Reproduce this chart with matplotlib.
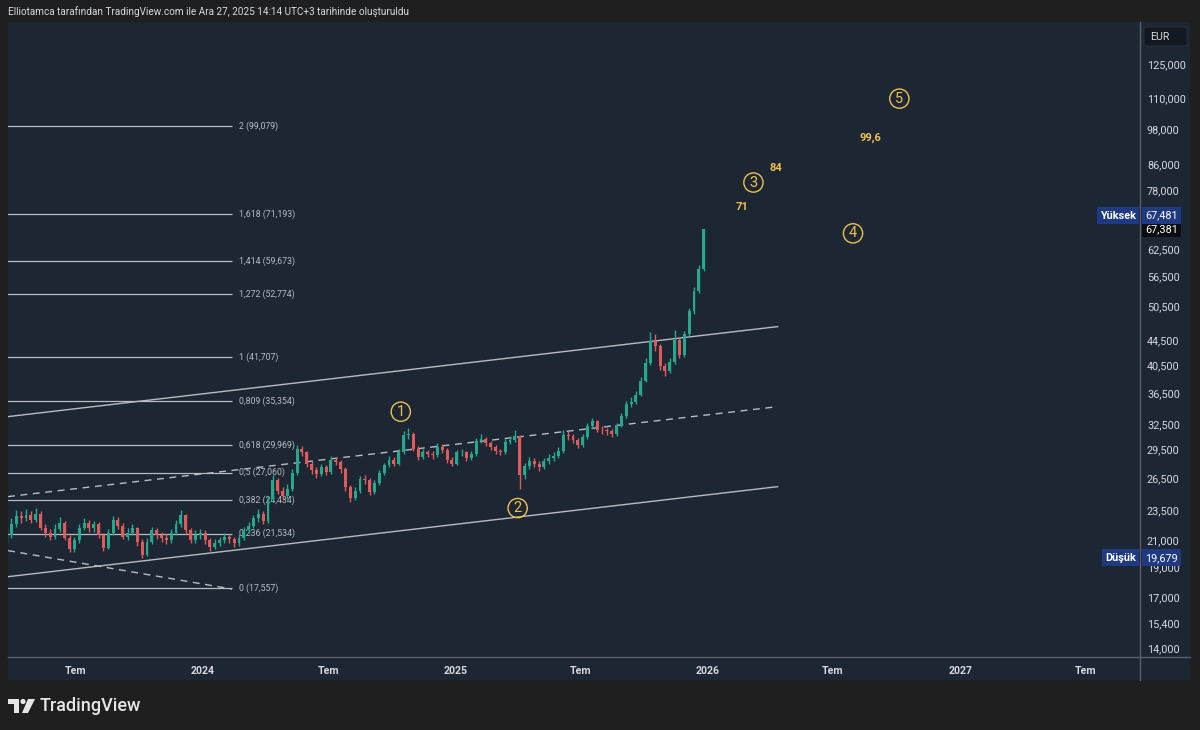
import matplotlib
matplotlib.use('Agg')
import matplotlib.pyplot as plt
import matplotlib.dates as mdates
import matplotlib.transforms as mtransforms
from matplotlib.ticker import FixedLocator, FixedFormatter, NullLocator
from matplotlib.patches import Rectangle, Polygon, Circle, FancyBboxPatch
from matplotlib.lines import Line2D
import pandas as pd

plt.rcParams['font.family'] = ['Roboto', 'DejaVu Sans']

W, H = 1200, 730

# weekly candles, prices in thousands EUR
first_open = 21.0
closes_k = [
    21.4, 22.3, 23.0, 22.8, 23.1, 22.7, 23.2, 22.0, 21.6, 21.3,
    21.9, 22.4, 21.2, 20.3, 21.0, 22.0, 22.4, 22.0, 22.3, 21.4,
    20.4, 21.6, 22.7, 22.2, 21.3, 21.6, 22.0, 20.9, 19.9, 20.9,
    21.8, 21.4, 21.2, 21.0, 21.6, 22.3, 23.1, 21.8, 21.0, 21.4,
    21.6, 21.0, 20.5, 20.8, 21.0, 21.3, 21.1, 20.8, 21.2, 21.8,
    22.2, 22.8, 23.2, 22.6, 24.5, 26.3, 25.3, 24.8, 25.5, 27.0,
    29.6, 29.2, 28.0, 27.3, 26.9, 27.6, 27.1, 28.4, 28.2, 27.4,
    25.6, 24.6, 25.3, 26.4, 26.3, 25.2, 26.0, 27.0, 27.8, 28.4,
    28.0, 29.2, 31.2, 31.3, 29.6, 28.7, 29.2, 29.0, 28.9, 29.8,
    29.5, 28.4, 28.0, 29.2, 29.2, 28.6, 29.0, 30.5, 30.7, 30.2,
    29.8, 29.3, 29.2, 30.4, 30.6, 31.0, 26.8, 27.7, 28.3, 28.0,
    27.6, 28.3, 28.6, 28.8, 29.3, 31.2, 31.0, 30.6, 30.0, 30.9,
    32.2, 32.8, 31.8, 31.7, 31.6, 31.3, 32.3, 33.4, 35.0, 35.3,
    36.2, 38.2, 40.8, 44.3, 43.5, 40.3, 39.6, 41.0, 44.5, 42.0,
    45.5, 49.5, 53.5, 58.0, 67.381,
]
highs_k = [
    21.9, 22.8, 23.5, 23.4, 23.6, 23.4, 23.7, 23.4, 22.3, 21.9,
    22.3, 22.9, 22.6, 21.4, 21.3, 22.3, 22.8, 22.7, 22.6, 22.5,
    21.6, 21.9, 23.0, 22.9, 22.4, 22.0, 22.3, 22.1, 21.1, 21.2,
    22.1, 22.0, 21.7, 21.5, 21.9, 22.7, 23.5, 23.2, 22.0, 21.8,
    21.9, 21.8, 21.2, 21.1, 21.3, 21.6, 21.5, 21.3, 21.5, 22.1,
    22.5, 23.1, 23.6, 23.4, 24.8, 26.8, 26.5, 25.6, 25.9, 27.4,
    30.0, 29.9, 29.4, 28.3, 27.6, 28.0, 27.9, 28.8, 28.7, 28.4,
    27.6, 25.8, 25.6, 26.7, 26.8, 26.5, 26.3, 27.3, 28.1, 28.8,
    28.7, 29.6, 31.6, 32.0, 31.5, 29.9, 29.6, 29.5, 29.4, 30.2,
    30.1, 29.7, 28.7, 29.5, 29.6, 29.4, 29.4, 30.8, 31.3, 30.9,
    30.5, 30.0, 29.6, 30.7, 31.0, 31.7, 31.2, 28.1, 28.7, 28.6,
    28.3, 28.6, 29.0, 29.2, 29.8, 31.8, 31.6, 31.3, 30.8, 31.3,
    32.6, 33.2, 33.0, 32.2, 32.0, 31.9, 32.6, 33.8, 35.4, 35.9,
    36.8, 38.7, 41.5, 45.8, 45.5, 43.8, 40.8, 41.6, 46.2, 44.8,
    46.0, 50.2, 54.3, 59.0, 67.481,
]
lows_k = [
    20.8, 21.2, 22.1, 22.4, 22.6, 22.4, 22.5, 21.8, 21.3, 21.0,
    21.1, 21.7, 21.0, 20.1, 20.1, 20.8, 21.8, 21.7, 21.7, 21.2,
    20.2, 20.3, 21.4, 21.9, 21.1, 21.0, 21.4, 20.6, 19.679, 19.8,
    20.7, 21.1, 20.9, 20.7, 20.8, 21.4, 22.1, 21.5, 20.8, 20.8,
    21.1, 20.7, 20.2, 20.3, 20.6, 20.8, 20.8, 20.5, 20.6, 21.0,
    21.6, 22.0, 22.5, 22.3, 22.4, 24.3, 25.0, 24.4, 24.5, 25.3,
    26.8, 28.8, 27.6, 26.9, 26.5, 26.7, 26.8, 26.9, 27.8, 27.0,
    25.3, 24.2, 24.4, 25.1, 25.9, 24.9, 25.0, 25.8, 26.8, 27.6,
    27.7, 27.8, 29.0, 30.7, 29.3, 28.4, 28.5, 28.7, 28.5, 28.7,
    29.1, 28.1, 27.7, 27.8, 28.8, 28.3, 28.4, 28.8, 30.2, 29.9,
    29.5, 29.0, 28.9, 29.0, 30.1, 30.3, 25.5, 26.4, 27.4, 27.6,
    27.2, 27.4, 28.0, 28.3, 28.6, 29.1, 30.6, 30.2, 29.7, 29.8,
    30.7, 31.9, 31.5, 31.3, 31.2, 30.9, 31.1, 32.1, 33.2, 34.6,
    35.0, 36.0, 38.0, 40.5, 42.6, 39.8, 38.9, 39.3, 40.7, 41.5,
    41.8, 45.2, 49.0, 53.0, 57.6,
]
week_dates = pd.date_range('2023-03-24', periods=len(closes_k), freq='7D')

fib_ratios = ['2', '1,618', '1,414', '1,272', '1', '0,809', '0,618', '0,5', '0,382', '0,236', '0']
fib_prices = [99079, 71193, 59673, 52774, 41707, 35354, 29969, 27060, 24434, 21534, 17557]

wave_names = ['1', '2', '3', '4', '5']
wave_dates = ['2024-10-14', '2025-04-01', '2026-03-08', '2026-07-30', '2026-10-05']
wave_prices = [34000, 23700, 80200, 66300, 109800]

target_texts = ['71', '84', '99,6']
target_dates = ['2026-02-20', '2026-04-09', '2026-08-24']
target_prices = [73300, 84800, 94900]

price_ticks = [125000, 110000, 98000, 86000, 78000, 62500, 56500, 50500, 44500, 40500,
               36500, 32500, 29500, 26500, 23500, 21000, 19000, 17000, 15400, 14000]
time_ticks = ['2023-07-01', '2024-01-01', '2024-07-01', '2025-01-01', '2025-07-01',
              '2026-01-01', '2026-07-01', '2027-01-01', '2027-07-01']
time_labels = ['Tem', '2024', 'Tem', '2025', 'Tem', '2026', 'Tem', '2027', 'Tem']

last_price = 67381
high_price = 67481
low_price = 19679

BG = '#1f1f1f'
PANEL = '#1c2733'
LINE = '#b8bcc4'
GOLD = '#efc04f'
TXT = '#d6d9e0'
UP, DOWN = '#26a88e', '#e05a5c'


def rect_px(x0, y0, x1, y1):
    return [x0 / W, 1 - y1 / H, (x1 - x0) / W, (y1 - y0) / H]


fig = plt.figure(figsize=(W / 100, H / 100), dpi=100, facecolor=BG)
fig.patches.append(Rectangle((8 / W, 1 - 680 / H), 1182 / W, 658 / H,
                             transform=fig.transFigure, facecolor=PANEL, edgecolor='none', zorder=-5))

ax = fig.add_axes(rect_px(8, 22, 1140, 656))
ax.set_facecolor(PANEL)
for s in ax.spines.values():
    s.set_visible(False)
ax.set_yscale('log')
ax.set_ylim(13620, 146300)
x_left = mdates.date2num(pd.Timestamp('2023-03-26'))
x_right = mdates.date2num(pd.Timestamp('2027-09-18'))
ax.set_xlim(x_left, x_right)

# candles
opens_k = [first_open] + closes_k[:-1]
xs = mdates.date2num(week_dates)
opens = [v * 1000 for v in opens_k]
closes = [v * 1000 for v in closes_k]
highs = [v * 1000 for v in highs_k]
lows = [v * 1000 for v in lows_k]
cols = [UP if c >= o else DOWN for o, c in zip(opens, closes)]
ax.vlines(xs, lows, highs, colors=cols, lw=1.0, zorder=4)
bottoms = [min(o, c) for o, c in zip(opens, closes)]
heights = [max(abs(c - o), 60) for o, c in zip(opens, closes)]
ax.bar(xs, heights, bottom=bottoms, width=4.2, color=cols, linewidth=0, zorder=4)

# fib levels
fib_end = mdates.date2num(pd.Timestamp('2024-02-13'))
ax.hlines(fib_prices, x_left - 30, fib_end, colors=LINE, lw=0.9, zorder=2)
for r, p in zip(fib_ratios, fib_prices):
    ax.annotate(f'{r} ({p:,})', xy=(fib_end, p), xytext=(5, 0), textcoords='offset points',
                va='center', ha='left', fontsize=6.3, color=LINE, zorder=3)

# channel lines
d = lambda s: mdates.date2num(pd.Timestamp(s))
ax.plot([d('2023-03-26'), d('2026-04-12')], [33380, 46760], color=LINE, lw=1, zorder=2)
ax.plot([d('2023-03-26'), d('2026-04-12')], [18330, 25680], color=LINE, lw=1, zorder=2)
ax.plot([d('2023-03-26'), d('2026-04-12')], [24740, 34650], color=LINE, lw=1,
        ls=(0, (5, 4)), zorder=2)
ax.plot([d('2023-03-26'), d('2024-02-13')], [20210, 17500], color=LINE, lw=1,
        ls=(0, (5, 4)), zorder=2)

# elliott wave labels
for n, dt, p in zip(wave_names, wave_dates, wave_prices):
    ax.text(d(dt), p, n, ha='center', va='center', fontsize=10.5, color=GOLD, zorder=6,
            bbox=dict(boxstyle='circle,pad=0.18', fc='none', ec=GOLD, lw=1))
for t, dt, p in zip(target_texts, target_dates, target_prices):
    ax.text(d(dt), p, t, ha='center', va='center', fontsize=8, color=GOLD,
            fontweight='bold', zorder=6)

# axes ticks
ax.yaxis.tick_right()
ax.yaxis.set_major_locator(FixedLocator(price_ticks))
ax.yaxis.set_major_formatter(FixedFormatter([f'{v:,}' for v in price_ticks]))
ax.yaxis.set_minor_locator(NullLocator())
ax.tick_params(axis='y', length=0, pad=5, labelsize=7.8, labelcolor=TXT)
ax.xaxis.set_major_locator(FixedLocator([d(t) for t in time_ticks]))
ax.xaxis.set_major_formatter(FixedFormatter(time_labels))
ax.xaxis.set_minor_locator(NullLocator())
ax.tick_params(axis='x', length=0, pad=7, labelsize=7.6, labelcolor=TXT)
for lab in ax.get_xticklabels():
    lab.set_fontweight('bold')

# separators
fig.lines.append(Line2D([1140 / W, 1140 / W], [1 - 22 / H, 1 - 680 / H], transform=fig.transFigure,
                        color='#56616d', lw=1))
fig.lines.append(Line2D([8 / W, 1190 / W], [1 - 656.5 / H, 1 - 656.5 / H], transform=fig.transFigure,
                        color='#56616d', lw=1))

# currency box
fig.patches.append(FancyBboxPatch((1144 / W, 1 - 46 / H), 43 / W, 19 / H,
                                  boxstyle='round,pad=0,rounding_size=0.003',
                                  transform=fig.transFigure, fc='#131920', ec='#2a323c', lw=0.6))
fig.text(1150 / W, 1 - 36.5 / H, 'EUR', color=TXT, fontsize=7.6, va='center', ha='left')

# price labels on the scale
trans = mtransforms.blended_transform_factory(fig.transFigure, ax.transData)
up_shift = mtransforms.offset_copy(trans, fig=fig, y=13, units='dots')
lbl = dict(fontsize=7.8, va='center', zorder=10)
fig.text(1145 / W, last_price, f'{last_price:,}', transform=trans, color='white', ha='left',
         bbox=dict(boxstyle='square,pad=0.3', fc='#0b0d10', ec='none'), **lbl)
fig.text(1145 / W, high_price, f'{high_price:,}', transform=up_shift, color='white', ha='left',
         bbox=dict(boxstyle='square,pad=0.3', fc='#1f3a82', ec='none'), **lbl)
fig.text(1136 / W, high_price, 'Yüksek', transform=up_shift, color='white', ha='right',
         fontweight='bold', bbox=dict(boxstyle='square,pad=0.3', fc='#1f3a82', ec='none'), **lbl)
fig.text(1145 / W, low_price, f'{low_price:,}', transform=trans, color='white', ha='left',
         bbox=dict(boxstyle='square,pad=0.3', fc='#1f3a82', ec='none'), **lbl)
fig.text(1136 / W, low_price, 'Düşük', transform=trans, color='white', ha='right',
         fontweight='bold', bbox=dict(boxstyle='square,pad=0.3', fc='#1f3a82', ec='none'), **lbl)

# header
fig.text(8 / W, 1 - 12 / H, 'Elliotamca tarafından TradingView.com ile Ara 27, 2025 14:14 UTC+3 tarihinde oluşturuldu',
         color=TXT, fontsize=7.2, va='center', ha='left')

# TradingView logo
lax = fig.add_axes(rect_px(8, 696, 36, 716))
lax.set_xlim(0, 28)
lax.set_ylim(0, 20)
lax.axis('off')
lax.add_patch(Polygon([(0, 17), (11, 17), (11, 3), (6, 3), (6, 12), (0, 12)], closed=True,
                      fc='#e6e6e6', ec='none'))
lax.add_patch(Circle((15, 14.5), 2.6, fc='#e6e6e6', ec='none'))
lax.add_patch(Polygon([(20, 17), (27, 17), (20, 3), (14, 3)], closed=True, fc='#e6e6e6', ec='none'))
fig.text(40 / W, 1 - 706 / H, 'TradingView', color='#e6e6e6', fontsize=13, va='center',
         ha='left', fontweight='medium')

fig.savefig('out.png', dpi=100, facecolor=BG)
